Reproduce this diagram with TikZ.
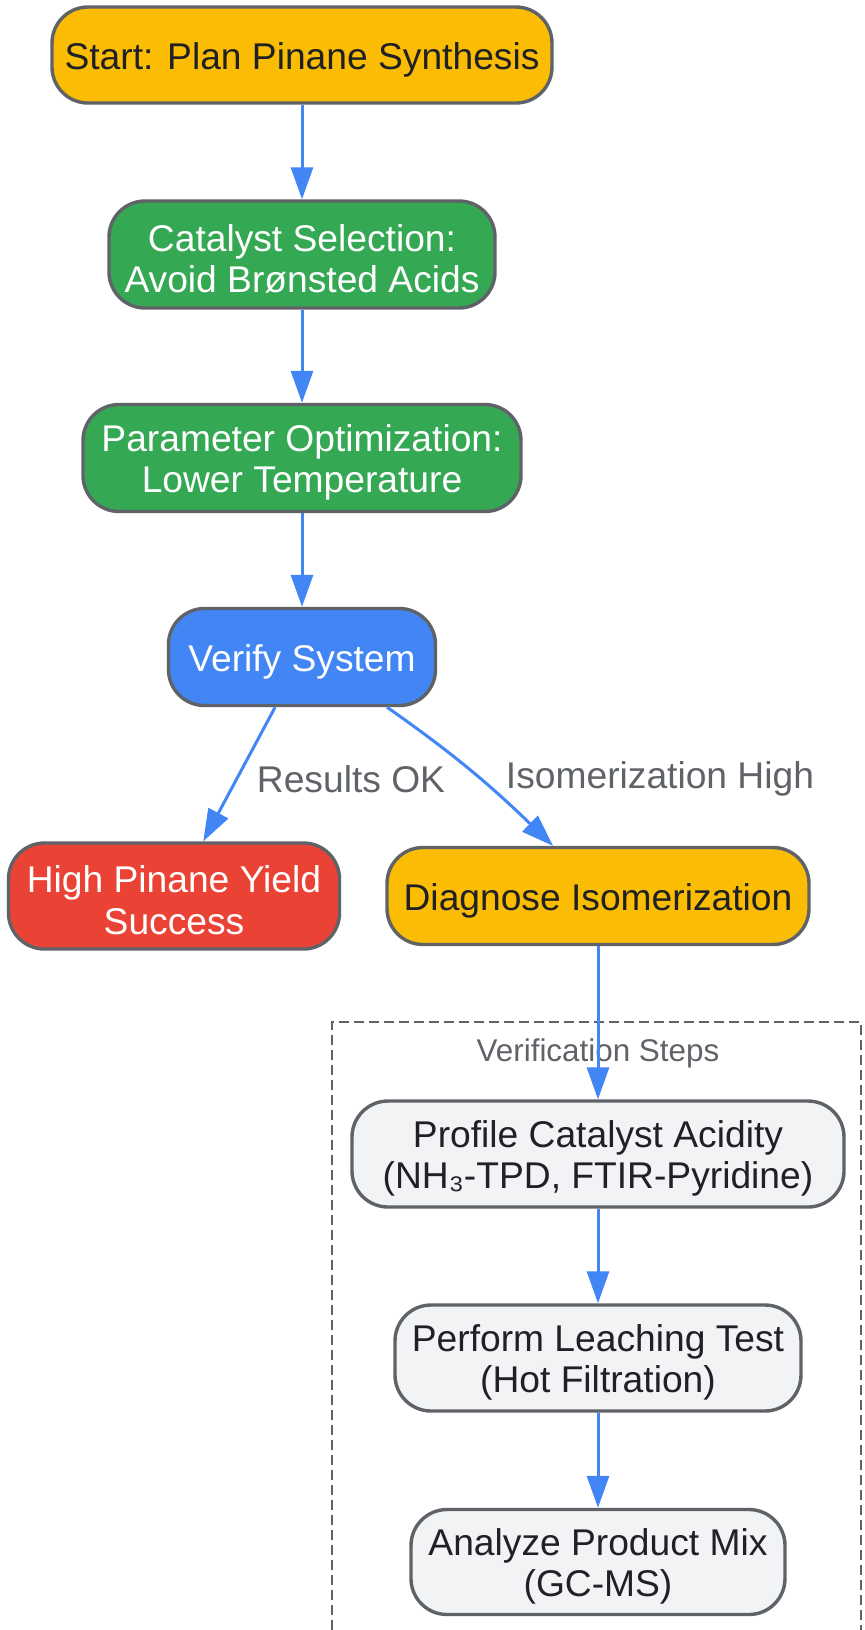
\documentclass[tikz,border=0pt]{standalone}
\usepackage{fontspec}
\setmainfont{Liberation Sans}
\usetikzlibrary{arrows.meta}
\usepackage{xcolor}

\definecolor{gyellow}{HTML}{FBBC04}
\definecolor{ggreen}{HTML}{34A853}
\definecolor{gblue}{HTML}{4285F4}
\definecolor{gred}{HTML}{EA4335}
\definecolor{glight}{HTML}{F1F3F4}
\definecolor{gborder}{HTML}{5F6368}
\definecolor{gtext}{HTML}{202124}

\tikzset{%
  box/.style={rectangle, rounded corners=18pt, draw=gborder, line width=1.7pt,
    align=center, inner sep=0pt, execute at begin node={\rule{0pt}{18pt}},
    font=\fontsize{18.6}{20.8}\selectfont},
  two lines/.style={execute at begin node={\rule{0pt}{38.5pt}}},
  yellow box/.style={fill=gyellow, text=gtext, box},
  green box/.style={fill=ggreen, text=white, box},
  blue box/.style={fill=gblue, text=white, box},
  red box/.style={fill=gred, text=white, box},
  light box/.style={fill=glight, text=gtext, box},
  flow/.style={draw=gblue, line width=1.5pt, -{Triangle[length=16pt,width=11pt]}},
  edge text/.style={text=gborder, font=\fontsize{18.6}{20.8}\selectfont}
}

\begin{document}
\begin{tikzpicture}[x=0.5pt, y=-0.5pt]
    \useasboundingbox (0,0) rectangle (864,1630);

    % cluster
    \draw[gborder, line width=1.2pt, dash pattern=on 5pt off 2.5pt] (332,1660) -- (332,1022) -- (861,1022) -- (861,1660);
    \node[text=gborder, font=\fontsize{15.7}{18}\selectfont] (vlabel) at (598,1053) {Verification Steps};

      \node[yellow box, minimum width=250pt, minimum height=48pt] (start) at (302,55) {Start: Plan Pinane Synthesis};
      \node[green box, two lines, minimum width=193pt, minimum height=53.5pt] (cat) at (302,254.5) {Catalyst Selection:\\Avoid Brønsted Acids};
      \node[green box, two lines, minimum width=219pt, minimum height=53.5pt] (param) at (302,458) {Parameter Optimization:\\Lower Temperature};
      \node[blue box, minimum width=133.5pt, minimum height=48.5pt] (verify) at (302,657) {Verify System};
      \node[red box, two lines, minimum width=165.5pt, minimum height=53pt] (success) at (174,896) {High Pinane Yield\\Success};
      \node[yellow box, minimum width=211pt, minimum height=48.5pt] (diag) at (598,896) {Diagnose Isomerization};
      \node[light box, two lines, minimum width=246pt, minimum height=53pt] (acid) at (598,1154) {Profile Catalyst Acidity\\(NH₃-TPD, FTIR-Pyridine)};
      \node[light box, two lines, minimum width=203pt, minimum height=53pt] (leach) at (598,1358) {Perform Leaching Test\\(Hot Filtration)};
      \node[light box, two lines, minimum width=187pt, minimum height=52.5pt] (gcms) at (598,1562) {Analyze Product Mix\\(GC-MS)};

      \draw[flow] (start) -- (cat);
      \draw[flow] (cat) -- (param);
      \draw[flow] (param) -- (verify);
      \draw[flow] (verify) -- (success);
      \draw[flow] ([xshift=42.5pt]verify.south) to[out=-35, in=136] ([xshift=-22.5pt]diag.north);
      \draw[flow] (diag) -- (acid);
      \draw[flow] (acid) -- (leach);
      \draw[flow] (leach) -- (gcms);

      \node[edge text] (oklabel) at (351,779) {Results OK};
      \node[edge text] (isolabel) at (660,779) {Isomerization High};

  \end{tikzpicture}
\end{document}
